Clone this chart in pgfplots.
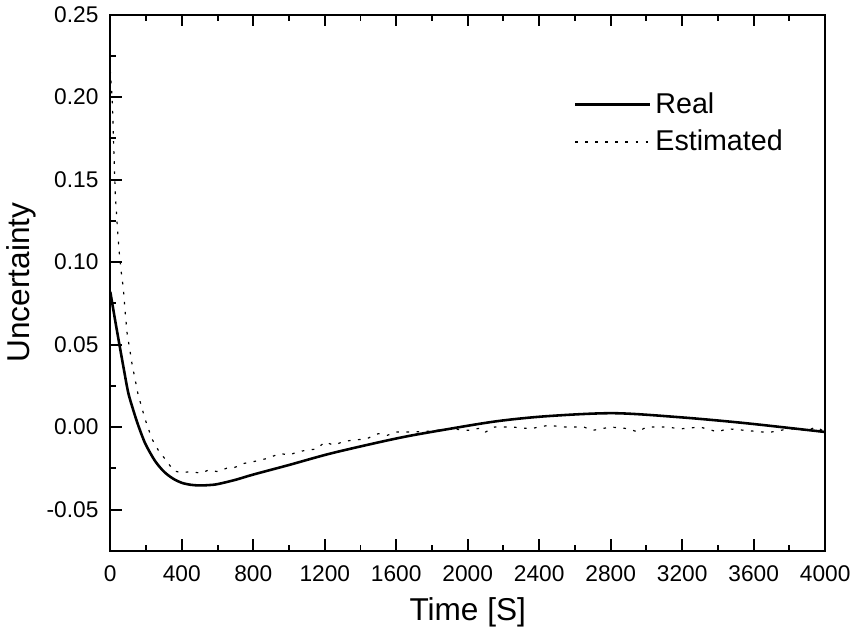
\documentclass[border=0pt]{standalone}
\usepackage{pgfplots}
\pgfplotsset{compat=1.18}
\usepackage{fontspec}
\setmainfont{Liberation Sans}
\begin{document}
\begin{tikzpicture}
\begin{axis}[scale only axis,width=362pt,height=271.5pt,
xmin=0,xmax=4000,ymin=-0.075,ymax=0.25,
xtick={0,400,...,4000},ytick={-0.05,0,0.05,0.1,0.15,0.2,0.25},
minor x tick num=1,minor y tick num=1,
tick align=inside,xtick pos=both,ytick pos=left,
major tick length=6pt,minor tick length=3pt,
every tick/.style={black,line width=1pt},
axis line style={line width=1pt},
/pgf/number format/assume math mode=true,
x tick label style={font=\fontsize{11.5}{13}\selectfont,yshift=-4pt,/pgf/number format/set thousands separator={}},
y tick label style={font=\fontsize{11.5}{13}\selectfont,xshift=-2.5pt,/pgf/number format/fixed,/pgf/number format/fixed zerofill,/pgf/number format/precision=2},
xlabel={Time [S]},ylabel={Uncertainty},
label style={font=\fontsize{16}{18}\selectfont},
xlabel style={yshift=-1pt},ylabel style={yshift=-1.5pt},
legend style={draw=none,fill=none,at={(0.955,0.87)},anchor=north east,font=\fontsize{14.5}{16}\selectfont,row sep=3pt},
legend cell align=left,
legend image code/.code={\draw[#1] (0pt,0pt) -- (38pt,0pt);}]
\addplot[black,line width=1.3pt,smooth] coordinates {
(0,0.082) (25,0.066) (50,0.0506) (75,0.0355) (100,0.0210) (125,0.0115) (150,0.0030) (175,-0.0045)
(200,-0.0110) (250,-0.0205) (300,-0.0270) (350,-0.0312) (400,-0.0338) (450,-0.0350) (500,-0.0354)
(550,-0.0352) (600,-0.0346) (700,-0.0320) (800,-0.0288) (1000,-0.0230) (1245,-0.0157)
(1615,-0.0066) (1892,-0.0012) (2168,0.0036) (2445,0.0066) (2815,0.0084) (3180,0.0060)
(3550,0.0024) (4000,-0.0030)};
\addlegendentry{Real}
\addplot[black,line width=0.6pt,dash pattern=on 1.3pt off 3.8pt] coordinates {
(0,0.216) (11,0.198) (17,0.178) (22,0.160) (28,0.141) (39,0.122) (50,0.106) (61,0.094) (72,0.085)
(83,0.070) (94,0.057) (122,0.038) (155,0.020) (194,0.005) (232,-0.007) (271,-0.0145) (315,-0.0205)
(354,-0.0265) (398,-0.0277) (450,-0.0270) (509,-0.0280) (550,-0.0260) (600,-0.0270) (650,-0.0250)
(691,-0.0247) (750,-0.0220) (800,-0.0210) (879,-0.0190) (950,-0.0160) (1000,-0.0170) (1050,-0.0150)
(1100,-0.0140) (1156,-0.0133) (1200,-0.0090) (1250,-0.0110) (1300,-0.0090) (1350,-0.0080)
(1432,-0.0072) (1500,-0.0040) (1550,-0.0050) (1600,-0.0030) (1700,-0.0030) (1797,-0.0024)
(1900,-0.0010) (2000,-0.0020) (2074,-0.0006) (2100,-0.0030) (2150,0.0000) (2250,0.0000)
(2350,-0.0010) (2450,0.0010) (2550,0.0000) (2650,0.0000) (2700,-0.0020) (2800,0.0000)
(2900,-0.0010) (2950,-0.0030) (3000,0.0000) (3100,0.0000) (3200,-0.0010) (3300,0.0000)
(3400,-0.0030) (3450,-0.0010) (3550,-0.0020) (3650,-0.0030) (3700,-0.0030) (3800,-0.0010)
(3900,-0.0020) (3950,0.0000) (4000,-0.0030)};
\addlegendentry{Estimated}
\end{axis}
\end{tikzpicture}
\end{document}
